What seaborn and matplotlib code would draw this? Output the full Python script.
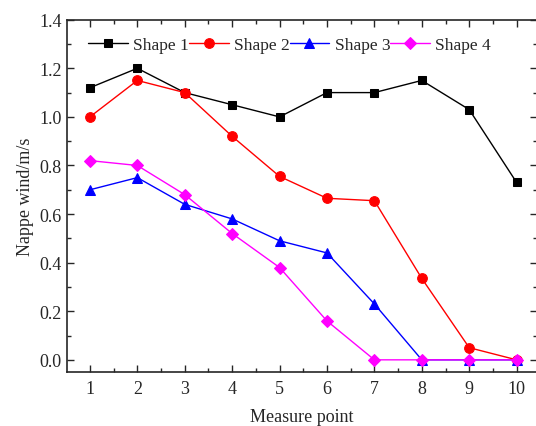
import matplotlib
matplotlib.use("Agg")
import matplotlib.pyplot as plt
import seaborn as sns
import pandas as pd
from matplotlib.ticker import MultipleLocator

points = [1, 2, 3, 4, 5, 6, 7, 8, 9, 10]
shape1 = [1.12, 1.20, 1.10, 1.05, 1.00, 1.10, 1.10, 1.15, 1.03, 0.73]
shape2 = [1.00, 1.15, 1.10, 0.92, 0.755, 0.665, 0.655, 0.335, 0.05, 0.0]
shape3 = [0.70, 0.75, 0.64, 0.58, 0.49, 0.44, 0.23, 0.0, 0.0, 0.0]
shape4 = [0.82, 0.80, 0.68, 0.52, 0.38, 0.16, 0.0, 0.0, 0.0, 0.0]
names = ["Shape 1", "Shape 2", "Shape 3", "Shape 4"]
colors = ["black", "red", "blue", "magenta"]
markers = ["s", "o", "^", "D"]
msizes = [6, 7, 7, 6]

sns.set_style("ticks")
plt.rcParams['font.family'] = ['Liberation Serif', 'DejaVu Serif']

fig = plt.figure(figsize=(5.36, 4.27), dpi=100)
ax = fig.add_axes([0.1244, 0.1265, 0.8775, 0.825])

for name, vals, c, m, s in zip(names, [shape1, shape2, shape3, shape4], colors, markers, msizes):
    df = pd.DataFrame({"x": points, "y": vals})
    sns.lineplot(data=df, x="x", y="y", ax=ax, color=c, marker=m, markersize=s,
                 markeredgecolor=c, linewidth=1.0, label=name)

ax.set_xlim(0.51, 10.43)
ax.set_ylim(-0.05, 1.4)
ax.set_xticks(points)
ax.xaxis.set_minor_locator(MultipleLocator(0.5))
ax.set_yticks([0.0, 0.2, 0.4, 0.6, 0.8, 1.0, 1.2, 1.4])
ax.set_yticklabels(["0.0", "0.2", "0.4", "0.6", "0.8", "1.0", "1.2", "1.4"])
ax.yaxis.set_minor_locator(MultipleLocator(0.1))
ax.tick_params(which='both', direction='in', top=True, right=True, labeltop=False, labelright=False, labelsize=13)
ax.tick_params(axis='x', which='major', pad=6)
ax.tick_params(which='major', length=5, width=1)
ax.tick_params(which='minor', length=3, width=1)
for sp in ax.spines.values():
    sp.set_linewidth(1.2)
ax.set_xlabel("Measure point", fontsize=13, labelpad=8)
ax.set_ylabel("Nappe wind/m/s", fontsize=13)

ax.legend(loc='upper left', ncol=4, frameon=False, fontsize=12.5, columnspacing=0.0,
          handlelength=2.3, handletextpad=0.3, bbox_to_anchor=(0.03, 0.972), borderaxespad=0.0)

fig.savefig("out.png", dpi=100)
